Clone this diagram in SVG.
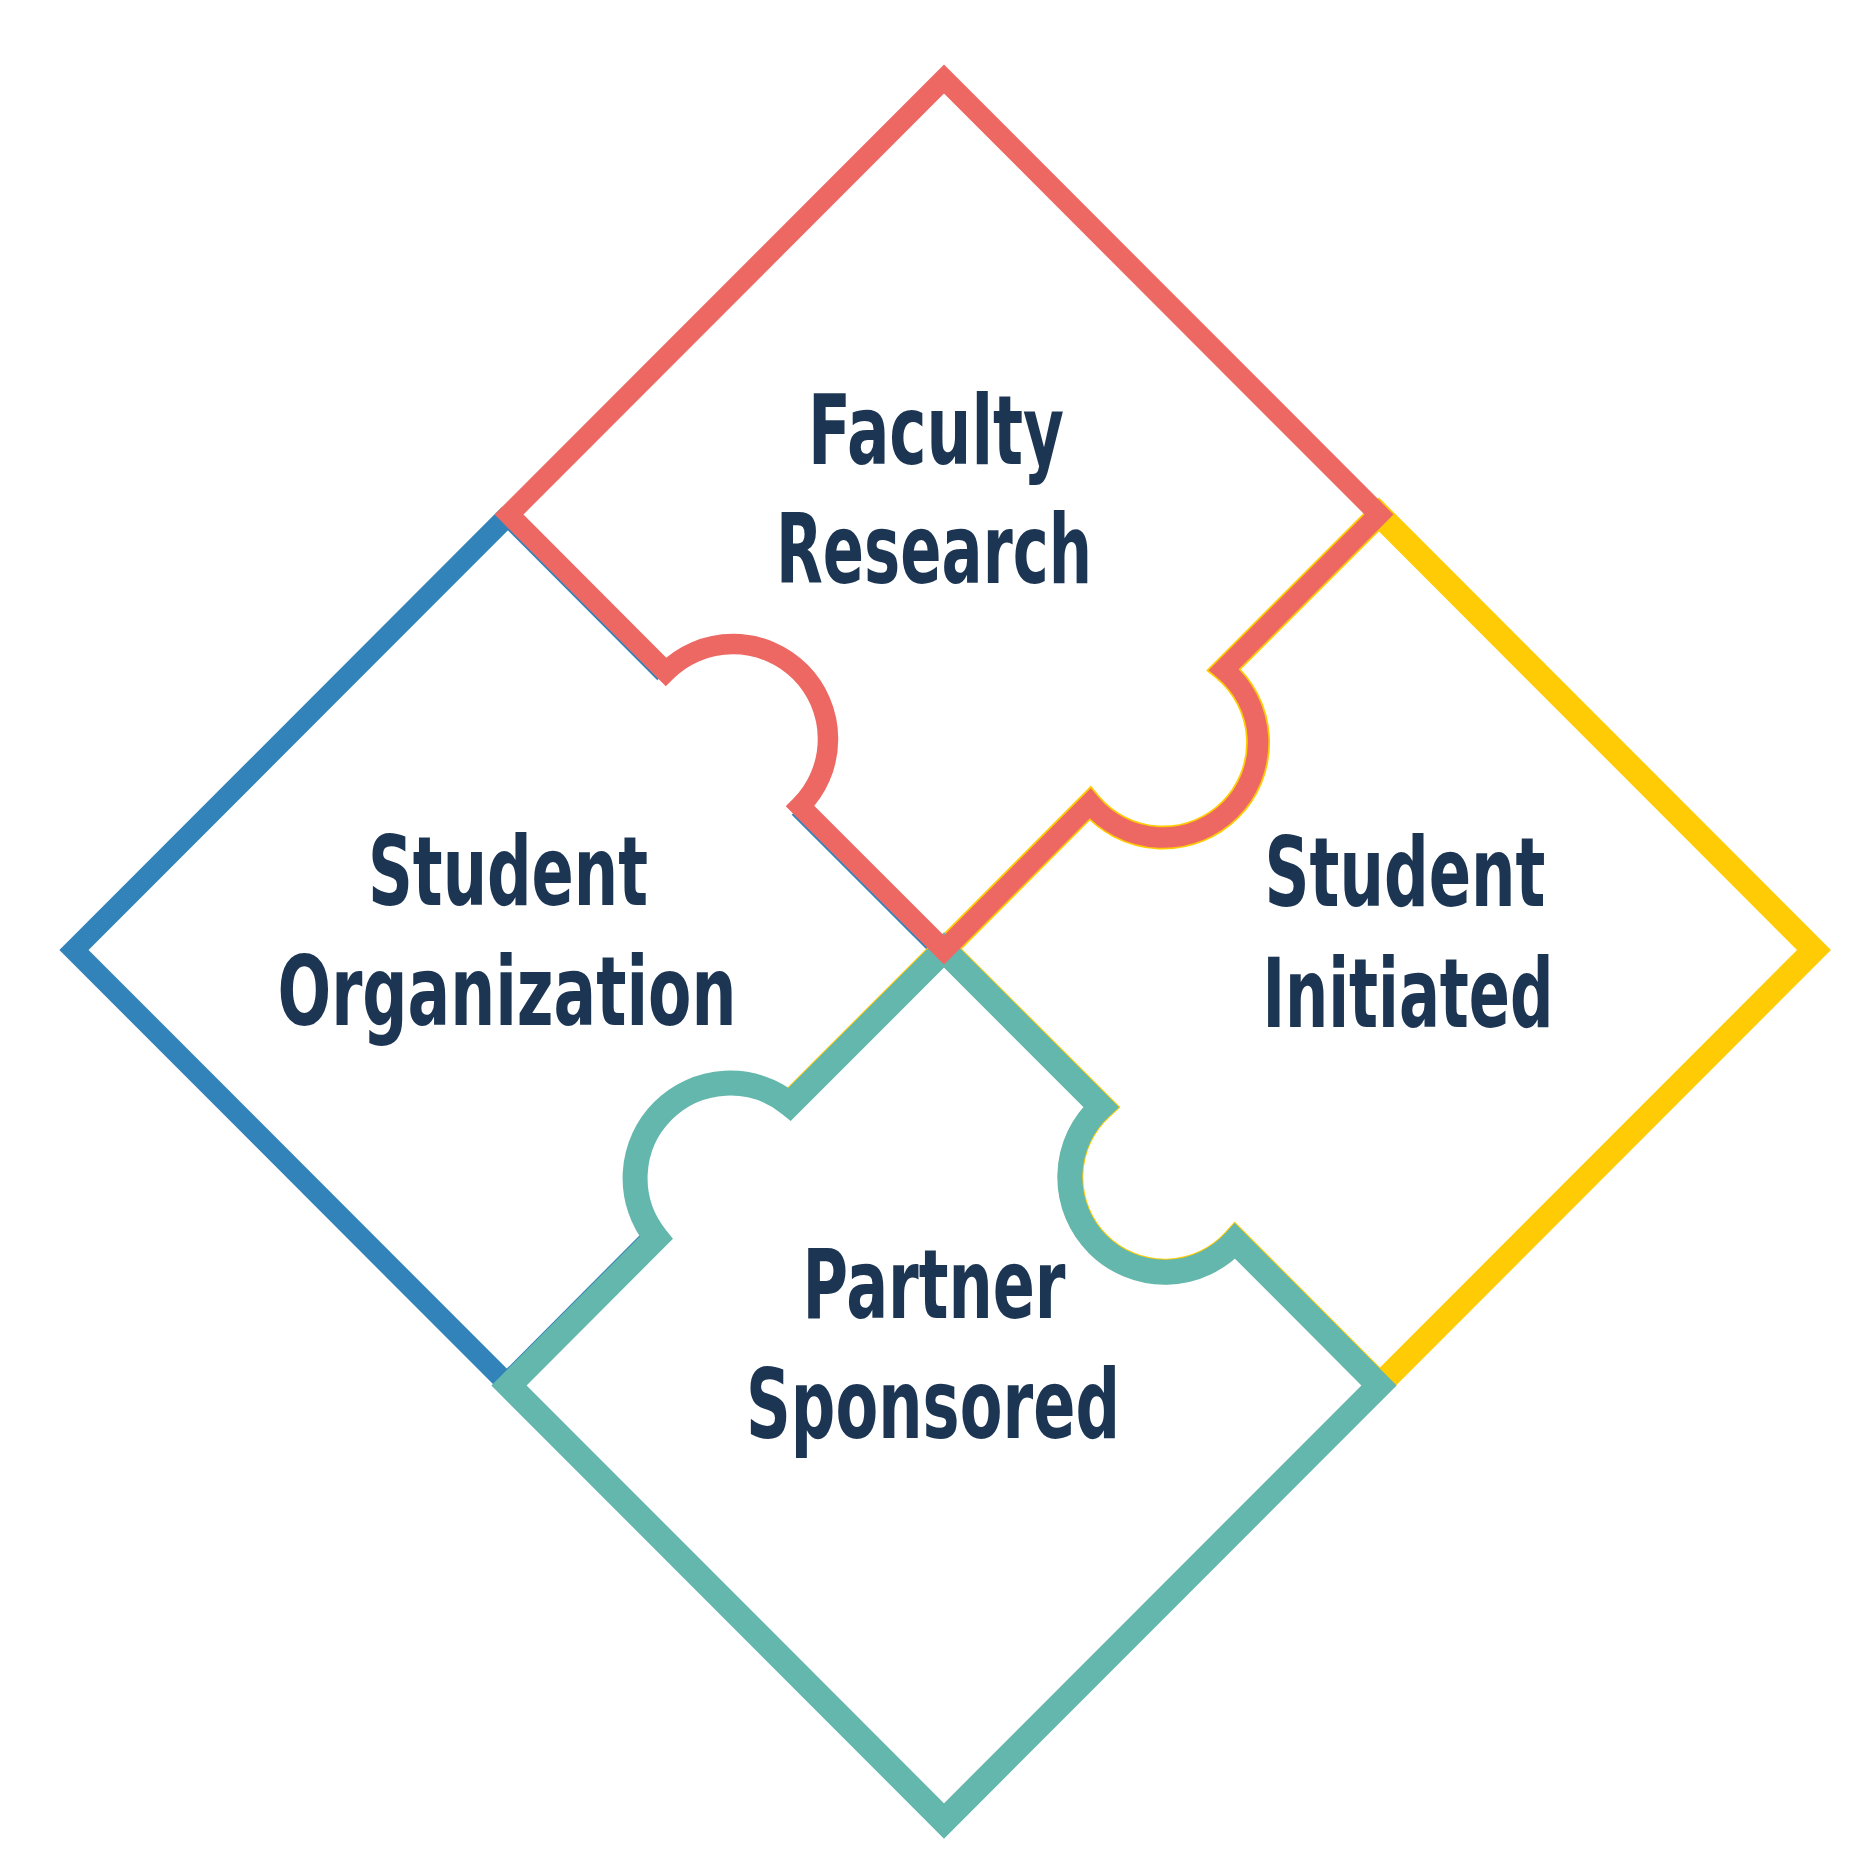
<svg xmlns="http://www.w3.org/2000/svg" width="1874" height="1874" viewBox="0 0 1874 1874">
<style>
  .edge{fill:none;stroke-linejoin:miter;stroke-linecap:butt;stroke-miterlimit:10}
  .blue{stroke:#3283b9}
  .yellow{stroke:#ffcb05}
  .teal{stroke:#63b7ad}
  .red{stroke:#ee6863}
  .lbl{font-family:"DejaVu Sans Condensed","DejaVu Sans","Noto Sans",sans-serif;font-weight:bold;font-size:96px;fill:#1c3553;text-anchor:middle}
</style>
<defs>
  <clipPath id="soClip">
    <path d="M 509 514.5 L 665.8 671.8 A 95 95 0 0 1 800.2 806.2 L 944 950 L 789.8 1104.2 A 95 95 0 0 0 656.2 1237.8 L 509 1385.5 L 74 950 Z"/>
  </clipPath>
  <clipPath id="siClip">
    <path d="M 1379 514.5 L 1814 950 L 1379 1385.5 L 1235.1 1241.1 A 95 95 0 1 1 1100.9 1106.9 L 944 950 L 1090.1 803.4 A 95 95 0 1 0 1223.9 669.6 Z"/>
  </clipPath>
</defs>
<rect width="1874" height="1874" fill="#ffffff"/>

<g id="student-organization">
  <path class="edge blue" stroke-width="20.7" d="M 509 514.5 L 74 950 L 509 1385.5"/>
  <path class="edge blue" stroke-width="24" clip-path="url(#soClip)" d="M 944 950 L 800.2 806.2 M 665.8 671.8 L 509 514.5"/>
  <path class="edge blue" stroke-width="27" clip-path="url(#soClip)" d="M 509 1385.5 L 656.2 1237.8"/>
  <path class="edge yellow" stroke-width="27" clip-path="url(#soClip)" d="M 944 950 L 789.8 1104.2"/>
  <text class="lbl" x="508" y="905" textLength="280" lengthAdjust="spacingAndGlyphs">Student</text>
  <text class="lbl" x="507" y="1025" textLength="459" lengthAdjust="spacingAndGlyphs">Organization</text>
</g>

<g id="student-initiated">
  <path class="edge yellow" stroke-width="24" d="M 1379 514.5 L 1814 950 L 1379 1385.5 L 1235.1 1241.1 A 95 95 0 1 1 1100.9 1106.9 L 944 950 L 1090.1 803.4 A 95 95 0 1 0 1223.9 669.6 Z"/>
  <path class="edge yellow" stroke-width="27" clip-path="url(#siClip)" d="M 944 950 L 1100.9 1106.9 A 95 95 0 1 0 1235.1 1241.1 L 1379 1385.5"/>
  <text class="lbl" x="1405" y="906" textLength="281" lengthAdjust="spacingAndGlyphs">Student</text>
  <text class="lbl" x="1408" y="1027" textLength="291" lengthAdjust="spacingAndGlyphs">Initiated</text>
</g>

<g id="partner-sponsored">
  <path class="edge teal" stroke-width="25" d="M 944 950 L 789.8 1104.2 A 95 95 0 0 0 656.2 1237.8 L 509 1385.5 L 944 1821 L 1379 1385.5 L 1235.1 1241.1 A 95 95 0 1 1 1100.9 1106.9 Z"/>
  <text class="lbl" x="934" y="1318" textLength="263" lengthAdjust="spacingAndGlyphs">Partner</text>
  <text class="lbl" x="933" y="1438" textLength="374" lengthAdjust="spacingAndGlyphs">Sponsored</text>
</g>

<g id="faculty-research">
  <path class="edge red" stroke-width="20.5" d="M 509 514.5 L 944 79 L 1379 514.5 L 1223.9 669.6 A 95 95 0 1 1 1090.1 803.4 L 944 950 L 800.2 806.2 A 95 95 0 0 0 665.8 671.8 Z"/>
  <text class="lbl" x="936" y="464" textLength="256" lengthAdjust="spacingAndGlyphs">Faculty</text>
  <text class="lbl" x="934" y="583" textLength="316" lengthAdjust="spacingAndGlyphs">Research</text>
</g>
</svg>
